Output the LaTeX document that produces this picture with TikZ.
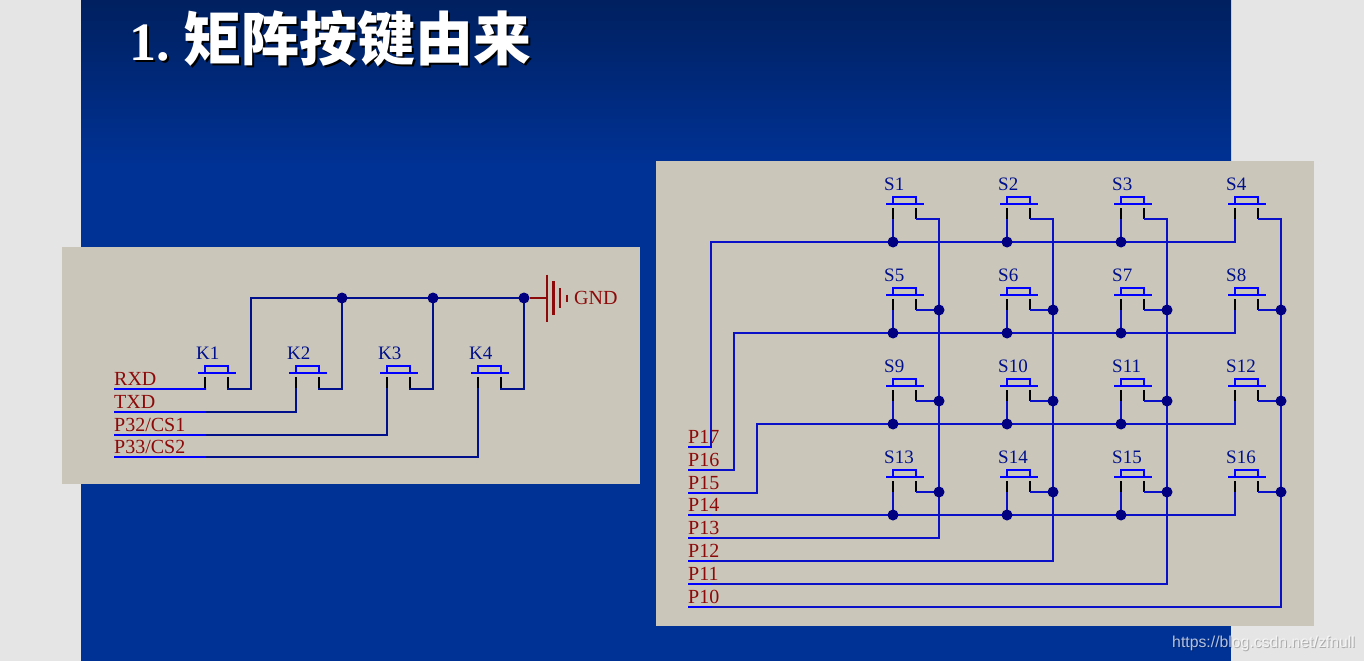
\documentclass[tikz,border=0pt]{standalone}
\usepackage{fontspec}
\setmainfont{Liberation Serif}
\setsansfont{Liberation Sans}
\newfontfamily\cjk{Noto Sans CJK SC}
\definecolor{pagegray}{HTML}{E5E5E5}
\definecolor{slidetop}{HTML}{00205F}
\definecolor{slideblue}{HTML}{003296}
\definecolor{panel}{HTML}{CAC6B9}
\definecolor{wirenavy}{HTML}{00108C}
\definecolor{wireblue}{HTML}{0A10C8}
\definecolor{dotnavy}{HTML}{000080}
\definecolor{pinred}{HTML}{8C0A0A}
\tikzset{
  wire/.style={line width=2.2pt,wireblue},
  navywire/.style={line width=2.2pt,wirenavy},
  pinstub/.style={line width=2.4pt,blue},
  junction/.style={circle,fill=dotnavy,inner sep=0pt,minimum size=11pt},
  pinlabel/.style={anchor=base west,inner sep=0pt,text=pinred,font=\fontsize{20}{20}\selectfont},
  keylabel/.style={anchor=base west,inner sep=0pt,text=wirenavy,font=\fontsize{19}{19}\selectfont},
  keysw/.pic={
    \draw[line width=2.2pt,blue] (-7,0) -- (31,0);
    \draw[line width=2pt,blue] (0,0) -- (0,-7.5) -- (23,-7.5) -- (23,0);
    \draw[line width=2.2pt,black] (0,4) -- (0,15) coordinate (-l);
    \draw[line width=2.2pt,black] (23,4) -- (23,15) coordinate (-r);
    \node[keylabel] (-name) at (-9,-14) {\tikzpictext};
  }
}

\begin{document}
\begin{tikzpicture}[x=1pt,y=-1pt]
\useasboundingbox (0,0) rectangle (1364,661);
\fill[pagegray] (0,0) rectangle (1364,661);
\shade[top color=slidetop,bottom color=slideblue] (81,0) rectangle (1231,170);
\fill[slideblue] (81,170) rectangle (1231,661);
\fill[panel] (62,247) rectangle (640,484);
\fill[panel] (656,161) rectangle (1314,626);

\node[anchor=base west,inner sep=0pt,black,font=\fontsize{54}{54}\selectfont\bfseries] (titleshadow) at (131,62.5) {1.\hspace{14pt}\cjk\fontsize{58}{58}\selectfont 矩阵按键由来};
\node[anchor=base west,inner sep=0pt,white,font=\fontsize{54}{54}\selectfont\bfseries] (title) at (129,60) {1.\hspace{14pt}\cjk\fontsize{58}{58}\selectfont 矩阵按键由来};

% small keyboard
\foreach \n/\x in {1/205,2/296,3/387,4/478}
  \pic[pic text=K\n] (K\n) at (\x,373) {keysw};
\foreach \n/\y/\lab in {1/389/{RXD},2/412/{TXD},3/435/{P32/CS1},4/457/{P33/CS2}} {
  \coordinate (sig\n) at (114,\y);
  \coordinate (stub\n) at (206,\y);
  \node[pinlabel] (lab\n) at (114,\y-4) {\lab};
}
\coordinate (gndtop) at (251,298);
\coordinate (gndnode) at (546.5,298);
\draw[navywire] (sig1) -- (stub1) -| (K1-l);
\draw[navywire] (sig2) -| (K2-l);
\draw[navywire] (sig3) -| (K3-l);
\draw[navywire] (sig4) -| (K4-l);
\draw[navywire] (K1-r) |- (stub1 -| gndtop) -- (gndtop) -- (gndtop -| 524,0);
\foreach \n/\x in {2/342,3/433,4/524}
  \draw[navywire] (K\n-r) |- (\x,389) -- (\x,298);
\foreach \n in {1,...,4}
  \draw[pinstub] (sig\n) -- (stub\n);
\foreach \n/\x in {1/342,2/433,3/524}
  \node[junction] (top\n) at (\x,298) {};
\draw[line width=2.2pt,pinred] (top3) -- (gndnode);
\foreach \x/\h in {547/23.5,553.5/17,560/10,567/3.5}
  \draw[line width=2.2pt,pinred] (\x,298-\h) -- (\x,298+\h);
\node[pinlabel] (gnd) at (574,304) {GND};

% big keyboard
\foreach \r/\y [count=\i from 0] in {1/204,2/295,3/386,4/477}
  \foreach \c/\x in {1/893,2/1007,3/1121,4/1235} {
    \pgfmathtruncatemacro{\n}{\i*4+\c}
    \pic[pic text=S\n] (S\n) at (\x,\y) {keysw};
  }
\foreach \n/\y [count=\i from 0] in {17/447,16/470,15/493,14/515,13/538,12/561,11/584,10/607} {
  \coordinate (p\n) at (688,\y);
  \coordinate (q\n) at (712,\y);
  \node[pinlabel] (plab\n) at (688,\y-3.5) {P\n};
}
\coordinate (row1) at (711,242);
\coordinate (row2) at (734,333);
\coordinate (row3) at (757,424);
\coordinate (row4) at (712,515);
\draw[wire] (p17) -| (row1) -- (S4-l |- row1) -- (S4-l);
\draw[wire] (p16) -| (row2) -- (S8-l |- row2) -- (S8-l);
\draw[wire] (p15) -| (row3) -- (S12-l |- row3) -- (S12-l);
\draw[wire] (p14) -- (S16-l |- p14) -- (S16-l);
\draw[wire] (S1-r) -| (939,538) -- (p13);
\draw[wire] (S2-r) -| (1053,561) -- (p12);
\draw[wire] (S3-r) -| (1167,584) -- (p11);
\draw[wire] (S4-r) -| (1281,607) -- (p10);
\foreach \c/\s/\col in {1/5/939,2/6/1053,3/7/1167,4/8/1281} {
  \pgfmathtruncatemacro{\sb}{\s+4}
  \pgfmathtruncatemacro{\sc}{\s+8}
  \draw[wire] (S\s-r) -- (S\s-r -| \col,0);
  \draw[wire] (S\sb-r) -- (S\sb-r -| \col,0);
  \draw[wire] (S\sc-r) -- (S\sc-r -| \col,0);
  \node[junction] (cj\s) at (S\s-r -| \col,0) {};
  \node[junction] (cj\sb) at (S\sb-r -| \col,0) {};
  \node[junction] (cj\sc) at (S\sc-r -| \col,0) {};
}
\foreach \r/\y [count=\i from 0] in {1/242,2/333,3/424,4/515}
  \foreach \c in {1,2,3} {
    \pgfmathtruncatemacro{\n}{\i*4+\c}
    \draw[wire] (S\n-l) -- (S\n-l |- row\r);
    \node[junction] (rj\n) at (S\n-l |- row\r) {};
  }
\foreach \n in {17,...,10}
  \draw[pinstub] (p\n) -- (q\n);

\node[anchor=base west,inner sep=0pt,black,opacity=.25,font=\sffamily\fontsize{15.8}{16}\selectfont] (markshadow) at (1173,648) {https://blog.csdn.net/zfnull};
\node[anchor=base west,inner sep=0pt,white,opacity=.7,font=\sffamily\fontsize{15.8}{16}\selectfont] (mark) at (1172,647) {https://blog.csdn.net/zfnull};
\end{tikzpicture}
\end{document}
